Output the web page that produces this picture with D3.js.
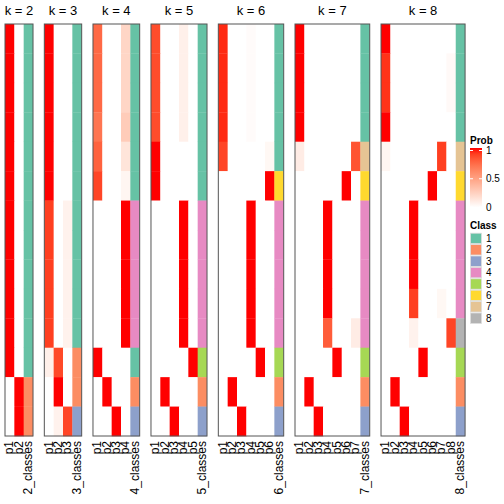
<!DOCTYPE html>
<html><head><meta charset="utf-8">
<script src="https://cdn.jsdelivr.net/npm/d3@7"></script>
<style>body{margin:0;background:#fff}svg{display:block;font-family:"Liberation Sans",Arial,sans-serif}</style>
</head><body>
<svg id="c" width="504" height="504"></svg>
<script>
// ---- data ----
const ks = [2,3,4,5,6,7,8];
const probK2 = [[1,0],[1,0],[1,0],[1,0],[1,0],[1,0],[1,0],[1,0],[1,0],[1,0],[1,0],[1,0],[0,1],[0,1]];
const classK2 = [1,1,1,1,1,1,1,1,1,1,1,1,2,2];
const probK3 = [[1,0,0],[1,0,0],[1,0,0],[1,0,0],[1,0,0],[1,0,0],
  [0.9,0,0.07],[0.9,0,0.07],[0.9,0,0.07],[0.9,0,0.07],[0.9,0,0.07],
  [0.08,0.87,0],[0,1,0],[0,0.07,0.88]];
const classK3 = [1,1,1,1,1,1,1,1,1,1,1,2,2,3];
const probK4 = [[0.75,0,0,0.22],[0.75,0,0,0.22],[0.75,0,0,0.22],[0.7,0,0,0.27],[0.78,0,0,0.14],[0.88,0,0,0.05],
  [0,0,0,1],[0,0,0,1],[0,0,0,1],[0,0,0,1],[0,0,0,1],
  [1,0,0,0],[0,1,0,0],[0,0,1,0]];
const classK4 = [1,1,1,1,1,1,4,4,4,4,4,1,2,3];
const probK5 = [[0.86,0,0,0.08,0],[0.86,0,0,0.08,0],[0.86,0,0,0.08,0],[0.86,0,0,0.08,0],[1,0,0,0,0],[1,0,0,0,0],
  [0,0,0,1,0],[0,0,0,1,0],[0,0,0,1,0],[0,0,0,1,0],[0,0,0,1,0],
  [0,0,0,0,1],[0,1,0,0,0],[0,0,1,0,0]];
const classK5 = [1,1,1,1,1,1,4,4,4,4,4,5,2,3];
const probK6 = [[0.95,0,0,0.02,0,0],[0.95,0,0,0.02,0,0],[0.95,0,0,0.02,0,0],[0.95,0,0,0.02,0,0],[0.88,0,0,0,0,0.04],[0,0,0,0,0,1],
  [0,0,0,1,0,0],[0,0,0,1,0,0],[0,0,0,1,0,0],[0,0,0,1,0,0],[0,0,0,1,0,0],
  [0,0,0,0,1,0],[0,1,0,0,0,0],[0,0,1,0,0,0]];
const classK6 = [1,1,1,1,1,6,4,4,4,4,4,5,2,3];
const probK7 = [[1,0,0,0,0,0,0],[1,0,0,0,0,0,0],[1,0,0,0,0,0,0],[1,0,0,0,0,0,0],[0.1,0,0,0,0,0,0.83],[0,0,0,0,0,1,0],
  [0,0,0,1,0,0,0],[0,0,0,1,0,0,0],[0,0,0,1,0,0,0],[0,0,0,1,0,0,0],[0,0,0,0.8,0,0,0.1],
  [0,0,0,0,1,0,0],[0,1,0,0,0,0,0],[0,0,1,0,0,0,0]];
const classK7 = [1,1,1,1,7,6,4,4,4,4,4,5,2,3];
const probK8 = [[1,0,0,0,0,0,0,0],[0.93,0,0,0,0,0,0,0.03],[0.93,0,0,0,0,0,0,0.03],[1,0,0,0,0,0,0,0],[0.05,0,0,0,0,0,0.9,0],[0,0,0,0,0,1,0,0],
  [0,0,0,1,0,0,0,0],[0,0,0,1,0,0,0,0],[0,0,0,1,0,0,0,0],[0,0,0,0.9,0,0,0.04,0],[0,0,0,0.07,0,0,0,0.88],
  [0,0,0,0,1,0,0,0],[0,1,0,0,0,0,0,0],[0,0,1,0,0,0,0,0]];
const classK8 = [1,1,1,1,7,6,4,4,4,4,8,5,2,3];
const classColors = ["#66C2A5","#FC8D62","#8DA0CB","#E78AC3","#A6D854","#FFD92F","#E5C494","#B3B3B3"];
const classLabels = ["1","2","3","4","5","6","7","8"];
const probTicks = [1,0.5,0];

const probs = [probK2,probK3,probK4,probK5,probK6,probK7,probK8];
const classes = [classK2,classK3,classK4,classK5,classK6,classK7,classK8];

// ---- layout ----
const svg = d3.select("#c");
const hmTop = 24, hmBottom = 436, x0 = 5, colW = 9.34, gap = 11.3;
const nRows = probK2.length;
const y = d3.scaleBand().domain(d3.range(nRows)).range([hmTop, hmBottom]);
const prob = d3.scaleLinear().domain([0,1]).range(["#ffffff","#ff0000"]).interpolate(d3.interpolateLab);
const cls = d3.scaleOrdinal().domain([1,2,3,4,5,6,7,8]).range(classColors);

let xStart = x0;
ks.forEach((k, i) => {
  const cols = d3.range(k).map(j => "p" + (j+1)).concat([k + "_classes"]);
  const x = d3.scaleBand().domain(cols).range([xStart, xStart + cols.length * colW]);
  const g = svg.append("g");
  const P = probs[i], C = classes[i];
  P.forEach((row, r) => {
    g.selectAll(null).data(row).enter().append("rect")
      .attr("x", (d, j) => x("p" + (j+1)))
      .attr("y", y(r))
      .attr("width", x.bandwidth() + 0.3)
      .attr("height", y.bandwidth() + 0.3)
      .attr("fill", d => prob(d));
  });
  g.selectAll(null).data(C).enter().append("rect")
    .attr("x", x(k + "_classes"))
    .attr("y", (d, r) => y(r))
    .attr("width", x.bandwidth())
    .attr("height", y.bandwidth() + 0.3)
    .attr("fill", d => cls(d));
  g.append("rect")
    .attr("x", x.range()[0]).attr("y", hmTop)
    .attr("width", x.range()[1] - x.range()[0]).attr("height", hmBottom - hmTop)
    .attr("fill", "none").attr("stroke", "#555").attr("stroke-width", 1);
  g.append("text").attr("x", (x.range()[0] + x.range()[1]) / 2).attr("y", 15)
    .attr("text-anchor", "middle").attr("font-size", 13).attr("fill", "#000")
    .text("k = " + k);
  g.selectAll(null).data(cols).enter().append("text")
    .attr("transform", d => `translate(${x(d) + x.bandwidth()/2 + 0.5},441) rotate(-90)`)
    .attr("text-anchor", "end").attr("dominant-baseline", "middle")
    .attr("font-size", 12).attr("fill", "#000")
    .text(d => d);
  xStart += cols.length * colW + gap;
});

// ---- legends ----
const lx = 470;
svg.append("text").attr("x", lx).attr("y", 144).attr("font-size", 10).attr("font-weight", "bold").text("Prob");
const defs = svg.append("defs");
const grad = defs.append("linearGradient").attr("id", "pg").attr("x1", 0).attr("x2", 0).attr("y1", 0).attr("y2", 1);
d3.range(0, 1.0001, 0.1).forEach(t => {
  grad.append("stop").attr("offset", t).attr("stop-color", prob(1 - t));
});
const ly = d3.scaleLinear().domain([0,1]).range([207, 150.5]);
svg.append("rect").attr("x", lx).attr("y", 148).attr("width", 12).attr("height", 59.5).attr("fill", "url(#pg)");
probTicks.forEach(t => {
  svg.append("line").attr("x1", lx).attr("x2", lx + 3).attr("y1", ly(t)).attr("y2", ly(t)).attr("stroke", "#fff");
  svg.append("line").attr("x1", lx + 9).attr("x2", lx + 12).attr("y1", ly(t)).attr("y2", ly(t)).attr("stroke", "#fff");
  svg.append("text").attr("x", lx + 16).attr("y", ly(t)).attr("dominant-baseline", "central")
    .attr("font-size", 10).text(t === 1 ? "1" : t === 0 ? "0" : "0.5");
});
svg.append("text").attr("x", lx).attr("y", 228.5).attr("font-size", 10).attr("font-weight", "bold").text("Class");
const sq = d3.scaleBand().domain(classLabels).range([232.7, 232.7 + 8 * 11.4]);
svg.selectAll(null).data(classLabels).enter().append("rect")
  .attr("x", lx + 0.5).attr("y", d => sq(d) + 0.5)
  .attr("width", 11).attr("height", sq.bandwidth() - 1)
  .attr("fill", (d, i) => classColors[i]).attr("stroke", "#ddd").attr("stroke-width", 0.8);
svg.selectAll(null).data(classLabels).enter().append("text")
  .attr("x", lx + 16).attr("y", d => sq(d) + sq.bandwidth()/2).attr("dominant-baseline", "central")
  .attr("font-size", 10).text(d => d);
</script>
</body></html>
